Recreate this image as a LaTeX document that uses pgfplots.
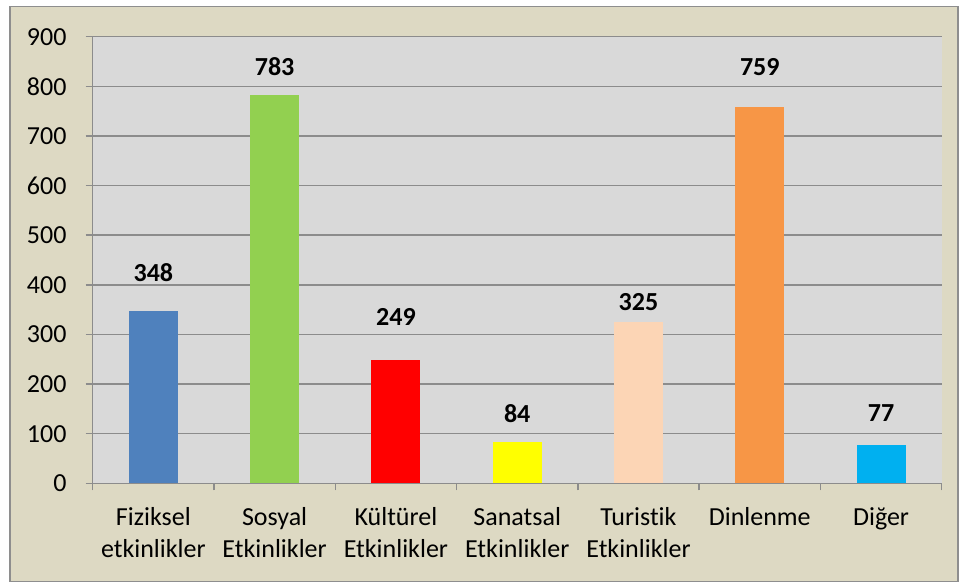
\documentclass[border=0pt]{standalone}
\usepackage{pgfplots}
\pgfplotsset{compat=1.18}
\usepackage{fontspec}
\setmainfont{Carlito}[Ligatures={NoCommon}]
\definecolor{bgbeige}{HTML}{DDD9C3}
\definecolor{plotgray}{HTML}{D9D9D9}
\definecolor{gridgray}{HTML}{8C8C8C}
\definecolor{framegray}{HTML}{8E8E8E}
\definecolor{c1}{HTML}{4F81BD}
\definecolor{c2}{HTML}{92D050}
\definecolor{c3}{HTML}{FF0000}
\definecolor{c4}{HTML}{FFFF00}
\definecolor{c5}{HTML}{FCD5B5}
\definecolor{c6}{HTML}{F79646}
\definecolor{c7}{HTML}{00B0F0}
\begin{document}
\begin{tikzpicture}
\fill[white] (-92.7bp,-99.7bp) rectangle (867.3bp,483.3bp);
\useasboundingbox (-92.7bp,-99.7bp) rectangle (867.3bp,483.3bp);
\filldraw[fill=bgbeige, draw=framegray, line width=1.5bp] (-82.7bp,-98.2bp) rectangle (865.3bp,476.6bp);
\begin{axis}[
  at={(0,0)}, anchor=south west,
  scale only axis, width=849bp, height=446.6bp,
  xmin=-0.5, xmax=6.5, ymin=0, ymax=900,
  ytick={0,100,...,900},
  xtick={0,...,6},
  xticklabels={{Fiziksel\\etkinlikler},{Sosyal\\Etkinlikler},{Kültürel\\Etkinlikler},{Sanatsal\\Etkinlikler},{Turistik\\Etkinlikler},{Dinlenme},{Diğer}},
  minor xtick={-0.5,0.5,...,6.5},
  major x tick style={draw=none},
  axis background/.style={fill=plotgray},
  ymajorgrids,
  grid style={draw=gridgray, line width=1.5bp},
  axis lines*=left,
  axis line style={-, draw=gridgray, line width=1.5bp},
  tick align=outside,
  major tick length=7bp, minor tick length=7bp,
  tick style={draw=gridgray, line width=1.5bp},
  /pgf/number format/assume math mode=true,
  ticklabel style={font=\fontsize{26bp}{32bp}\selectfont, inner sep=0pt},
  xticklabel style={align=center, yshift=-17bp},
  yticklabel style={xshift=-19bp},
  every node near coord/.append style={font=\fontsize{26bp}{32bp}\selectfont\bfseries, inner sep=0pt, anchor=south},
  clip=false,
]
\addplot[ybar, bar shift=0pt, bar width=0.404, fill=c1, draw=none, nodes near coords, every node near coord/.append style={yshift=28.3bp}] coordinates {(0,348)};
\addplot[ybar, bar shift=0pt, bar width=0.404, fill=c2, draw=none, nodes near coords, every node near coord/.append style={yshift=19bp}] coordinates {(1,783)};
\addplot[ybar, bar shift=0pt, bar width=0.404, fill=c3, draw=none, nodes near coords, every node near coord/.append style={yshift=34bp}] coordinates {(2,249)};
\addplot[ybar, bar shift=0pt, bar width=0.404, fill=c4, draw=none, nodes near coords, every node near coord/.append style={yshift=19bp}] coordinates {(3,84)};
\addplot[ybar, bar shift=0pt, bar width=0.404, fill=c5, draw=none, nodes near coords, every node near coord/.append style={yshift=11bp}] coordinates {(4,325)};
\addplot[ybar, bar shift=0pt, bar width=0.404, fill=c6, draw=none, nodes near coords, every node near coord/.append style={yshift=31bp}] coordinates {(5,759)};
\addplot[ybar, bar shift=0pt, bar width=0.404, fill=c7, draw=none, nodes near coords, every node near coord/.append style={yshift=23.3bp}] coordinates {(6,77)};
\end{axis}
\end{tikzpicture}
\end{document}
